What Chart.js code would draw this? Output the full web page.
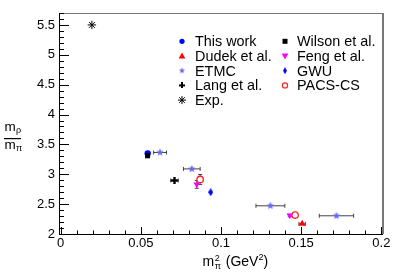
<!DOCTYPE html>
<html><head><meta charset="utf-8">
<script src="https://cdn.jsdelivr.net/npm/chart.js@4.4.1/dist/chart.umd.min.js"></script>
<style>html,body{margin:0;padding:0;background:#fff;}#wrap{width:407px;height:277px;position:relative;}</style>
</head><body><div id="wrap"><canvas id="c" width="407" height="277"></canvas></div>
<script>
// ---------------- data ----------------
const thisWorkX = [0.0543];           const thisWorkY = [3.35];
const wilsonX   = [0.0542];           const wilsonY   = [3.31];
const dudekX    = [0.1506];           const dudekY    = [2.17];   const dudekXErr = [0.002];
const fengX     = [0.0849, 0.1429];   const fengY     = [2.83, 2.31];  const fengYErr = [0.065, 0.02];
const etmcX     = [0.062, 0.0818, 0.1308, 0.172];
const etmcY     = [3.365, 3.09, 2.472, 2.305];
const etmcXErr  = [0.004, 0.0052, 0.009, 0.0107];
const gwuX      = [0.0936];           const gwuY      = [2.70];
const langX     = [0.071];            const langY     = [2.896];  const langXErr = [0.0024];
const pacsX     = [0.087, 0.1462];    const pacsY     = [2.913, 2.317]; const pacsYErr = [0.083, 0.02];
const expX      = [0.0195];           const expY      = [5.5];

const xTickValues = [0, 0.05, 0.1, 0.15, 0.2];
const yTickValues = [2, 2.5, 3, 3.5, 4, 4.5, 5, 5.5];
const legendLabels = ['This work','Wilson et al.','Dudek et al.','Feng et al.','ETMC','GWU','Lang et al.','PACS-CS','Exp.'];

// ---------------- marker images ----------------
function mkCanvas(w,h){const c=document.createElement('canvas');c.width=w;c.height=h;return c;}
function starImg(r,color){const s=Math.ceil(2*r)+2;const c=mkCanvas(s,s);const g=c.getContext('2d');g.fillStyle=color;g.beginPath();
  for(let i=0;i<10;i++){const a=-Math.PI/2+i*Math.PI/5;const rr=(i%2)?r*0.45:r;g.lineTo(s/2+rr*Math.cos(a),s/2+rr*Math.sin(a));}
  g.closePath();g.fill();return c;}
function plusImg(s,arm,color){const c=mkCanvas(s,s);const g=c.getContext('2d');g.fillStyle=color;const o=(s-arm)/2;g.fillRect(o,0,arm,s);g.fillRect(0,o,s,arm);return c;}
function diamondImg(w,h,color){const c=mkCanvas(w,h);const g=c.getContext('2d');g.fillStyle=color;g.beginPath();g.moveTo(w/2,0);g.lineTo(w,h/2);g.lineTo(w/2,h);g.lineTo(0,h/2);g.closePath();g.fill();return c;}

const ETMC_COL = '#6a6af0';
const starBig = starImg(4.0, ETMC_COL), starSmall = starImg(3.2, ETMC_COL);
const plusBig = plusImg(7, 2.4, '#000'), plusSmall = plusImg(6, 2, '#000');
const diaBig = diamondImg(5, 8, '#0000ff'), diaSmall = diamondImg(4, 7, '#0000ff');

function pts(xs,ys){return xs.map((x,i)=>({x:x,y:ys[i]}));}

const datasets = [
  {label:'Wilson et al.', data:pts(wilsonX,wilsonY), pointStyle:'rect', pointRadius:3.6, backgroundColor:'#000', borderColor:'#000', borderWidth:0},
  {label:'This work', data:pts(thisWorkX,thisWorkY), pointStyle:'circle', pointRadius:3.2, backgroundColor:'#0000ff', borderColor:'#0000ff', borderWidth:0},
  {label:'ETMC', data:pts(etmcX,etmcY), xErr:etmcXErr, pointStyle:starBig, backgroundColor:ETMC_COL, borderColor:ETMC_COL},
  {label:'Lang et al.', data:pts(langX,langY), xErr:langXErr, pointStyle:plusBig, backgroundColor:'#000', borderColor:'#000'},
  {label:'GWU', data:pts(gwuX,gwuY), pointStyle:diaBig, backgroundColor:'#0000ff', borderColor:'#0000ff'},
  {label:'Feng et al.', data:pts(fengX,fengY), yErr:fengYErr, pointStyle:'triangle', rotation:180, pointRadius:3.8, backgroundColor:'#ff00ff', borderColor:'#ff00ff', borderWidth:0},
  {label:'PACS-CS', data:pts(pacsX,pacsY), yErr:pacsYErr, pointStyle:'circle', pointRadius:3.2, backgroundColor:'#fff', borderColor:'#ff2020', borderWidth:1.3},
  {label:'Dudek et al.', data:pts(dudekX,dudekY), xErr:dudekXErr, pointStyle:'triangle', pointRadius:4, backgroundColor:'#ff0000', borderColor:'#ff0000', borderWidth:0},
  {label:'Exp.', data:pts(expX,expY), pointStyle:'star', pointRadius:4.2, backgroundColor:'#000', borderColor:'#000', borderWidth:1}
];
datasets.forEach(d=>{d.pointHoverRadius=d.pointRadius||4;});

const FONT = '"Liberation Sans", Arial, Helvetica, sans-serif';

// ---------------- helpers for legend markers ----------------
function drawMarker(g, style, x, y){
  g.save();
  switch(style){
    case 'circle': g.fillStyle='#0000ff'; g.beginPath(); g.arc(x,y,2.6,0,2*Math.PI); g.fill(); break;
    case 'rect': g.fillStyle='#000'; g.fillRect(x-2.5,y-2.5,5,5); break;
    case 'tri': g.fillStyle='#ff0000'; g.beginPath(); g.moveTo(x,y-3.5); g.lineTo(x+3.3,y+2.4); g.lineTo(x-3.3,y+2.4); g.closePath(); g.fill(); break;
    case 'tridown': g.fillStyle='#ff00ff'; g.beginPath(); g.moveTo(x,y+3.5); g.lineTo(x+3.3,y-2.4); g.lineTo(x-3.3,y-2.4); g.closePath(); g.fill(); break;
    case 'star': g.drawImage(starSmall, x-starSmall.width/2, y-starSmall.height/2); break;
    case 'dia': g.drawImage(diaSmall, x-diaSmall.width/2, y-diaSmall.height/2); break;
    case 'plus': g.drawImage(plusSmall, x-plusSmall.width/2, y-plusSmall.height/2); break;
    case 'open': g.strokeStyle='#ff2020'; g.lineWidth=1.2; g.beginPath(); g.arc(x,y,2.6,0,2*Math.PI); g.stroke(); break;
    case 'ast': g.strokeStyle='#000'; g.lineWidth=1; g.beginPath();
      for(let k=0;k<4;k++){const a=k*Math.PI/4; g.moveTo(x-4*Math.cos(a),y-4*Math.sin(a)); g.lineTo(x+4*Math.cos(a),y+4*Math.sin(a));}
      g.stroke(); break;
  }
  g.restore();
}
const legendMarkers = ['circle','rect','tri','tridown','star','dia','plus','open','ast'];

const decor = {
  id:'decor',
  beforeDatasetsDraw(chart){
    const g=chart.ctx, xs=chart.scales.x, ys=chart.scales.y;
    g.save(); g.strokeStyle='#444'; g.lineWidth=1;
    chart.data.datasets.forEach(ds=>{
      ds.data.forEach((p,i)=>{
        const px=xs.getPixelForValue(p.x), py=ys.getPixelForValue(p.y);
        if(ds.xErr){const a=xs.getPixelForValue(p.x-ds.xErr[i]), b=xs.getPixelForValue(p.x+ds.xErr[i]);
          g.beginPath(); g.moveTo(a,py); g.lineTo(b,py); g.moveTo(a,py-2); g.lineTo(a,py+2); g.moveTo(b,py-2); g.lineTo(b,py+2); g.stroke();}
        if(ds.yErr){const a=ys.getPixelForValue(p.y-ds.yErr[i]), b=ys.getPixelForValue(p.y+ds.yErr[i]);
          g.beginPath(); g.moveTo(px,a); g.lineTo(px,b); g.moveTo(px-2,a); g.lineTo(px+2,a); g.moveTo(px-2,b); g.lineTo(px+2,b); g.stroke();}
      });
    });
    g.restore();
  },
  afterDraw(chart){
    const g=chart.ctx, xs=chart.scales.x, ys=chart.scales.y, ca=chart.chartArea;
    g.save();
    // frame
    g.strokeStyle='#777'; g.lineWidth=1;
    g.beginPath(); g.moveTo(ca.left, ca.top+0.5); g.lineTo(ca.right, ca.top+0.5); g.stroke();
    g.lineWidth=2; g.beginPath(); g.moveTo(ca.right, ca.top); g.lineTo(ca.right, ca.bottom); g.stroke();
    g.strokeStyle='#000'; g.lineWidth=1;
    g.beginPath(); g.moveTo(ca.left+0.5, ca.top); g.lineTo(ca.left+0.5, ca.bottom+0.5); g.lineTo(ca.right, ca.bottom+0.5); g.stroke();
    // ticks
    g.beginPath();
    for(let i=0;i<=20;i++){const v=i/100; const px=Math.round(xs.getPixelForValue(v))+0.5; const len=(i%5===0)?7:3.5;
      g.moveTo(px, ca.bottom); g.lineTo(px, ca.bottom-len);}
    for(let i=20;i<=57;i++){const v=i/10; const py=Math.round(ys.getPixelForValue(v))+0.5; const len=(i%5===0)?10:5;
      g.moveTo(ca.left, py); g.lineTo(ca.left+len, py);}
    g.stroke();
    // axis titles
    g.fillStyle='#000'; g.textBaseline='alphabetic'; g.textAlign='left';
    g.font='13.5px '+FONT; g.fillText('m', 4.5, 131);
    g.font='9px '+FONT; g.fillText('\u03c1', 16, 133);
    g.fillRect(4, 138, 17, 1.2);
    g.font='13.5px '+FONT; g.fillText('m', 4.5, 148.5);
    g.font='9px '+FONT; g.fillText('\u03c0', 16, 151);
    let x=202.5; const base=266;
    g.font='14px '+FONT; g.fillText('m', x, base); x+=g.measureText('m').width+0.5;
    g.font='9px '+FONT; g.fillText('2', x, base-5.5); g.fillText('\u03c0', x, base+2.5); x+=g.measureText('\u03c0').width+1;
    g.font='14px '+FONT; g.fillText(' (GeV', x, base); x+=g.measureText(' (GeV').width;
    g.font='9px '+FONT; g.fillText('2', x, base-6); x+=g.measureText('2').width;
    g.font='14px '+FONT; g.fillText(')', x, base);
    // legend
    const colM=[182,285], colT=[195,297];
    g.font='14.4px '+FONT;
    legendLabels.forEach((lab,i)=>{
      const c=i%2, r=Math.floor(i/2); const y=41.3+r*14.7;
      drawMarker(g, legendMarkers[i], colM[c], y);
      g.fillStyle='#000'; g.fillText(lab, colT[c], y+5);
    });
    g.restore();
  }
};

const tickFmt = v => String(+(+v).toFixed(3));

new Chart(document.getElementById('c'), {
  type:'scatter',
  data:{datasets:datasets},
  options:{
    responsive:false, animation:false, devicePixelRatio:1,
    layout:{padding:{left:0, top:13, right:24, bottom:0}},
    plugins:{legend:{display:false}, tooltip:{enabled:false}},
    scales:{
      x:{type:'linear', min:-0.001, max:0.201,
        grid:{display:false, drawTicks:false}, border:{display:false},
        ticks:{font:{family:FONT, size:13}, color:'#000', padding:2, autoSkip:false, maxRotation:0, callback:tickFmt},
        afterBuildTicks:s=>{s.ticks=xTickValues.map(v=>({value:v}));},
        afterFit:s=>{s.height=43;}},
      y:{type:'linear', min:2, max:5.7,
        grid:{display:false, drawTicks:false}, border:{display:false},
        ticks:{font:{family:FONT, size:13}, color:'#000', padding:4, autoSkip:false, callback:tickFmt},
        afterBuildTicks:s=>{s.ticks=yTickValues.map(v=>({value:v}));},
        afterFit:s=>{s.width=59;}}
    }
  },
  plugins:[decor]
});
</script></body></html>
